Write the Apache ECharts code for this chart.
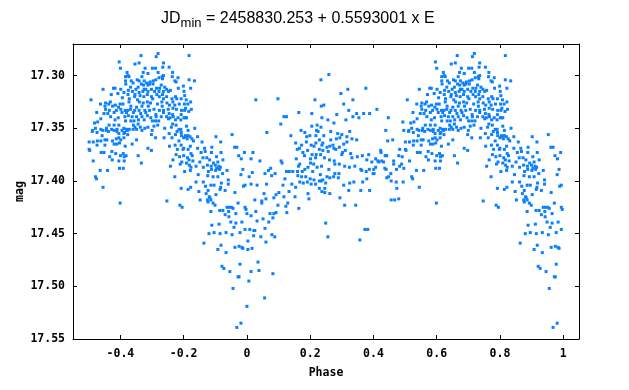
<!DOCTYPE html>
<html><head><meta charset="utf-8">
<script src="https://cdn.jsdelivr.net/npm/echarts@6/dist/echarts.min.js"></script>
<style>html,body{margin:0;padding:0;background:#fff}#c{width:629px;height:390px}</style>
</head><body><div id="c"></div>
<script>
const xTickValues = [-0.4, -0.2, 0, 0.2, 0.4, 0.6, 0.8, 1];
const yTickValues = [17.30, 17.35, 17.40, 17.45, 17.50, 17.55];

// observations, phase in [-0.5, 0.02]  (phase, mag)
const obsFirstHalf = [
[-0.281,17.279],[-0.287,17.282],[-0.335,17.281],[-0.183,17.281],
[-0.404,17.287],[-0.341,17.288],[-0.354,17.289],[-0.264,17.288],
[-0.400,17.293],[-0.322,17.293],[-0.299,17.293],[-0.289,17.293],[-0.266,17.292],[-0.246,17.292],
[-0.379,17.297],[-0.328,17.297],[-0.281,17.297],[-0.313,17.298],[-0.235,17.297],[-0.376,17.300],
[-0.384,17.301],[-0.373,17.301],[-0.332,17.301],[-0.268,17.301],[-0.264,17.300],[-0.278,17.302],[-0.218,17.302],[-0.236,17.301],
[-0.384,17.305],[-0.366,17.305],[-0.347,17.304],[-0.341,17.305],[-0.325,17.305],[-0.317,17.307],[-0.306,17.306],[-0.296,17.305],
[-0.288,17.304],[-0.267,17.303],[-0.228,17.305],[-0.183,17.304],[-0.166,17.305],[-0.383,17.308],[-0.360,17.307],[-0.334,17.308],
[-0.327,17.309],[-0.308,17.308],[-0.297,17.308],[-0.313,17.309],[-0.271,17.309],[-0.224,17.306],
[-0.422,17.312],[-0.417,17.312],[-0.399,17.313],[-0.368,17.311],[-0.344,17.311],[-0.325,17.313],[-0.320,17.313],[-0.302,17.313],
[-0.286,17.312],[-0.276,17.312],[-0.260,17.311],[-0.254,17.313],[-0.242,17.314],[-0.217,17.312],[-0.201,17.310],[-0.178,17.312],
[-0.375,17.314],[-0.362,17.315],[-0.351,17.313],[-0.341,17.316],[-0.329,17.315],[-0.313,17.315],[-0.292,17.315],[-0.278,17.315],
[-0.264,17.315],[-0.248,17.315],[-0.199,17.315],[-0.455,17.313],
[-0.429,17.318],[-0.408,17.317],[-0.389,17.316],[-0.376,17.318],[-0.354,17.318],[-0.338,17.319],[-0.315,17.318],[-0.302,17.320],
[-0.285,17.318],[-0.267,17.318],[-0.254,17.320],[-0.226,17.320],[-0.197,17.319],[-0.394,17.321],[-0.372,17.322],[-0.355,17.320],
[-0.346,17.323],[-0.326,17.320],[-0.298,17.322],[-0.277,17.320],[-0.264,17.322],[-0.237,17.322],[-0.222,17.322],[-0.208,17.322],
[-0.493,17.323],[-0.192,17.323],
[-0.463,17.327],[-0.447,17.326],[-0.437,17.327],[-0.432,17.325],[-0.401,17.327],[-0.392,17.327],[-0.373,17.325],[-0.340,17.325],
[-0.328,17.326],[-0.315,17.325],[-0.305,17.326],[-0.283,17.327],[-0.269,17.325],[-0.253,17.326],[-0.234,17.325],[-0.214,17.327],
[-0.198,17.327],[-0.187,17.327],[-0.178,17.325],[-0.449,17.329],[-0.425,17.329],[-0.416,17.328],[-0.406,17.330],[-0.367,17.329],
[-0.349,17.330],[-0.332,17.329],[-0.312,17.329],[-0.268,17.329],[-0.245,17.328],[-0.228,17.328],[-0.194,17.331],
[-0.447,17.332],[-0.435,17.333],[-0.413,17.333],[-0.399,17.332],[-0.385,17.333],[-0.377,17.333],[-0.368,17.332],[-0.355,17.333],
[-0.341,17.333],[-0.323,17.333],[-0.308,17.333],[-0.294,17.332],[-0.277,17.333],[-0.264,17.333],[-0.249,17.332],[-0.234,17.331],
[-0.223,17.332],[-0.207,17.333],[-0.197,17.333],[-0.184,17.334],[-0.176,17.332],[-0.475,17.335],[-0.452,17.336],[-0.440,17.336],
[-0.420,17.335],[-0.395,17.335],[-0.381,17.335],[-0.359,17.335],[-0.336,17.336],[-0.320,17.335],[-0.288,17.337],[-0.264,17.335],
[-0.246,17.336],[-0.235,17.337],[-0.208,17.337],
[-0.462,17.341],[-0.431,17.339],[-0.407,17.340],[-0.386,17.339],[-0.375,17.338],[-0.363,17.339],[-0.349,17.339],[-0.332,17.339],
[-0.315,17.338],[-0.304,17.340],[-0.287,17.339],[-0.271,17.339],[-0.254,17.339],[-0.243,17.340],[-0.233,17.339],[-0.218,17.340],
[-0.199,17.340],[-0.191,17.340],[-0.417,17.342],[-0.384,17.343],[-0.367,17.343],[-0.357,17.343],[-0.343,17.342],[-0.325,17.342],
[-0.299,17.343],[-0.289,17.343],[-0.279,17.343],[-0.248,17.341],[-0.226,17.342],[-0.209,17.342],[-0.195,17.340],
[-0.482,17.345],[-0.472,17.344],[-0.436,17.347],[-0.420,17.347],[-0.405,17.347],[-0.359,17.347],[-0.344,17.346],[-0.313,17.349],
[-0.294,17.348],[-0.282,17.347],[-0.235,17.346],[-0.224,17.347],[-0.191,17.348],[-0.444,17.350],[-0.428,17.351],[-0.411,17.351],
[-0.389,17.350],[-0.381,17.351],[-0.372,17.351],[-0.354,17.349],[-0.349,17.351],[-0.337,17.349],[-0.323,17.350],[-0.260,17.350],
[-0.239,17.349],[-0.215,17.351],[-0.209,17.351],[-0.165,17.350],[-0.488,17.352],[-0.479,17.350],[-0.462,17.351],
[-0.489,17.353],[-0.474,17.354],[-0.456,17.352],[-0.445,17.352],[-0.438,17.353],[-0.420,17.352],[-0.411,17.353],[-0.395,17.352],
[-0.387,17.354],[-0.378,17.352],[-0.360,17.351],[-0.332,17.352],[-0.300,17.352],[-0.221,17.353],[-0.208,17.354],[-0.186,17.352],
[-0.458,17.357],[-0.405,17.355],[-0.389,17.355],[-0.377,17.356],[-0.302,17.356],[-0.246,17.355],[-0.226,17.356],[-0.207,17.357],
[-0.195,17.357],[-0.193,17.358],[-0.186,17.357],[-0.156,17.358],
[-0.499,17.363],[-0.473,17.362],[-0.462,17.362],[-0.449,17.361],[-0.443,17.361],[-0.425,17.362],[-0.413,17.360],[-0.405,17.359],
[-0.399,17.361],[-0.389,17.359],[-0.349,17.361],[-0.289,17.359],[-0.262,17.359],[-0.237,17.359],[-0.215,17.362],[-0.200,17.359],
[-0.189,17.360],[-0.180,17.358],[-0.174,17.360],[-0.169,17.362],[-0.142,17.363],[-0.098,17.358],[-0.083,17.363],[-0.047,17.356],
[-0.486,17.363],
[-0.474,17.366],[-0.449,17.366],[-0.420,17.365],[-0.412,17.365],[-0.403,17.364],[-0.385,17.367],[-0.363,17.365],[-0.313,17.369],
[-0.245,17.367],[-0.227,17.366],[-0.208,17.366],[-0.200,17.369],[-0.179,17.367],[-0.156,17.369],[-0.134,17.369],[-0.111,17.368],
[-0.039,17.368],[-0.032,17.368],[-0.497,17.371],[-0.461,17.373],[-0.452,17.373],[-0.427,17.372],[-0.415,17.374],[-0.400,17.376],
[-0.391,17.374],[-0.382,17.376],[-0.344,17.376],[-0.302,17.371],[-0.220,17.370],[-0.202,17.370],[-0.186,17.370],[-0.177,17.374],
[-0.145,17.373],[-0.132,17.372],[-0.112,17.373],[-0.082,17.373],[-0.008,17.373],[0.019,17.373],[-0.499,17.370],
[-0.434,17.377],[-0.388,17.377],[-0.224,17.375],[-0.213,17.377],[-0.200,17.376],[-0.188,17.378],[-0.173,17.376],[-0.139,17.378],
[-0.127,17.378],[-0.118,17.380],[-0.096,17.377],[-0.076,17.380],[-0.026,17.376],[-0.018,17.379],[0.013,17.379],[-0.486,17.381],
[-0.426,17.380],[-0.405,17.381],[-0.388,17.381],[-0.334,17.383],[-0.234,17.380],[-0.206,17.382],[-0.183,17.380],[-0.171,17.381],
[-0.149,17.382],[-0.106,17.383],[-0.092,17.382],
[-0.211,17.384],[-0.191,17.383],[-0.182,17.385],[-0.177,17.387],[-0.161,17.386],[-0.138,17.387],[-0.125,17.385],[-0.113,17.386],
[-0.100,17.385],[-0.096,17.388],[-0.089,17.386],[-0.084,17.387],[-0.242,17.386],[-0.403,17.388],[-0.391,17.388],[-0.464,17.390],
[-0.441,17.390],[-0.197,17.391],[-0.179,17.390],[-0.122,17.391],[-0.112,17.389],[-0.099,17.390],[-0.087,17.389],[-0.063,17.390],
[-0.013,17.389],[0.017,17.392],
[-0.479,17.396],[-0.476,17.398],[-0.228,17.396],[-0.154,17.394],[-0.124,17.395],[-0.107,17.396],[-0.092,17.396],[-0.077,17.393],
[-0.059,17.399],[-0.019,17.394],[0.007,17.396],[-0.138,17.401],[-0.161,17.401],[-0.114,17.404],[-0.081,17.402],[-0.059,17.403],
[-0.455,17.406],[-0.208,17.407],[-0.178,17.406],[-0.131,17.405],[-0.104,17.404],[-0.083,17.406],[-0.006,17.404],[-0.011,17.405],
[0.013,17.403],[-0.186,17.408],[-0.123,17.409],[-0.085,17.408],
[-0.253,17.419],[-0.401,17.421],[-0.212,17.423],[-0.205,17.425],[-0.152,17.410],[-0.148,17.418],[-0.125,17.418],[-0.123,17.420],
[-0.119,17.415],[-0.117,17.416],[-0.114,17.418],[-0.107,17.421],[-0.101,17.423],[-0.098,17.413],[-0.129,17.412],[-0.069,17.409],
[-0.038,17.411],[-0.028,17.421],[-0.114,17.429],[-0.086,17.428],[-0.076,17.428],[-0.063,17.425],[-0.057,17.425],[-0.049,17.425],
[-0.044,17.426],[-0.058,17.429],[-0.069,17.432],[-0.057,17.434],[-0.035,17.431],[-0.006,17.425],[-0.003,17.427],[0.000,17.431],
[0.013,17.433],[-0.051,17.439],[-0.035,17.440],[-0.016,17.439],[-0.111,17.442],[-0.088,17.441],[-0.041,17.444],[-0.006,17.446],
[0.009,17.446],[-0.120,17.450],[-0.104,17.449],[-0.085,17.450],[-0.066,17.449],[-0.047,17.451],[-0.022,17.449],[0.022,17.447],
[0.021,17.452],[-0.136,17.459],[-0.082,17.461],[-0.092,17.465],[-0.066,17.468],[-0.038,17.463],[-0.025,17.462],[-0.016,17.463],
[-0.013,17.464],[0.003,17.465],[0.016,17.464],[0.003,17.457],[-0.079,17.481],[-0.073,17.483],[-0.054,17.486],[-0.022,17.479],
[-0.028,17.491],[-0.025,17.491],[0.013,17.486],[0.006,17.495],[-0.044,17.502],[0.000,17.519],[-0.032,17.539],[-0.019,17.535]
];

// observations, phase in (0.02, 0.5)  (phase, mag)
const obsSecondHalf = [
[0.259,17.299],[0.234,17.304],[0.297,17.317],[0.319,17.313],[0.376,17.312],[0.335,17.323],[0.306,17.327],[0.028,17.323],
[0.098,17.322],[0.215,17.323],[0.235,17.329],[0.243,17.328],[0.322,17.333],[0.369,17.336],[0.388,17.336],[0.411,17.332],
[0.347,17.336],[0.354,17.340],[0.164,17.335],[0.205,17.336],[0.284,17.337],[0.335,17.339],[0.117,17.339],[0.125,17.339],
[0.237,17.340],[0.256,17.342],[0.275,17.345],[0.313,17.342],[0.107,17.346],[0.205,17.348],[0.222,17.347],[0.234,17.349],
[0.220,17.352],[0.225,17.353],[0.171,17.352],[0.063,17.354],[0.183,17.354],[0.199,17.357],[0.218,17.357],[0.139,17.357],
[0.189,17.358],[0.265,17.353],[0.287,17.355],[0.300,17.356],[0.325,17.353],[0.316,17.358],[0.332,17.360],[0.347,17.361],
[0.294,17.359],[0.283,17.360],[0.265,17.361],[0.243,17.357],[0.229,17.361],[0.154,17.364],[0.173,17.366],[0.188,17.363],
[0.203,17.366],[0.212,17.367],[0.218,17.364],[0.237,17.366],[0.253,17.368],[0.262,17.367],[0.272,17.366],[0.240,17.364],
[0.275,17.369],[0.292,17.368],[0.306,17.365],[0.316,17.363],[0.166,17.369],[0.159,17.370],[0.177,17.373],[0.192,17.371],
[0.206,17.375],[0.229,17.370],[0.240,17.371],[0.257,17.372],[0.281,17.370],[0.302,17.373],[0.311,17.371],[0.328,17.374],
[0.349,17.377],[0.156,17.379],[0.108,17.381],[0.111,17.383],[0.182,17.376],[0.201,17.379],[0.217,17.378],[0.233,17.375],
[0.219,17.375],[0.245,17.378],[0.261,17.380],[0.276,17.381],[0.300,17.375],[0.332,17.378],[0.309,17.386],[0.324,17.387],
[0.341,17.386],[0.365,17.376],[0.379,17.380],[0.385,17.375],[0.407,17.379],[0.167,17.384],[0.163,17.386],[0.193,17.387],
[0.201,17.383],[0.211,17.384],[0.222,17.387],[0.236,17.386],[0.259,17.389],[0.278,17.384],[0.292,17.384],[0.183,17.389],
[0.120,17.398],[0.125,17.391],[0.134,17.391],[0.145,17.391],[0.160,17.391],[0.175,17.391],[0.161,17.395],[0.173,17.396],
[0.186,17.396],[0.200,17.398],[0.212,17.399],[0.229,17.400],[0.240,17.399],[0.253,17.396],[0.262,17.397],[0.274,17.396],
[0.291,17.393],[0.289,17.397],[0.278,17.393],[0.232,17.394],[0.208,17.391],[0.075,17.388],[0.068,17.390],[0.089,17.393],
[0.078,17.395],[0.057,17.393],[0.062,17.403],[0.032,17.404],[0.114,17.404],[0.142,17.403],[0.154,17.406],[0.167,17.401],
[0.178,17.402],[0.191,17.401],[0.203,17.403],[0.217,17.403],[0.229,17.407],[0.246,17.407],[0.235,17.400],[0.249,17.402],
[0.306,17.404],[0.325,17.402],[0.338,17.401],[0.366,17.401],[0.379,17.398],[0.399,17.393],[0.401,17.389],[0.414,17.381],
[0.423,17.371],[0.437,17.376],[0.442,17.376],[0.445,17.362],[0.461,17.361],[0.439,17.352],[0.447,17.340],[0.493,17.344],
[0.496,17.352],[0.483,17.370],[0.480,17.376],[0.491,17.377],[0.464,17.381],[0.464,17.384],[0.489,17.384],[0.496,17.388],
[0.483,17.386],[0.473,17.389],[0.455,17.393],[0.442,17.397],[0.448,17.396],[0.456,17.400],[0.472,17.401],[0.494,17.401],
[0.474,17.407],[0.436,17.388],[0.440,17.389],[0.426,17.381],[0.432,17.382],[0.417,17.382],[0.407,17.387],[0.402,17.393],
[0.395,17.382],[0.377,17.391],[0.387,17.389],[0.363,17.390],[0.360,17.389],[0.424,17.373],[0.041,17.381],
[0.054,17.412],[0.047,17.419],[0.047,17.421],[0.060,17.417],[0.025,17.418],[0.085,17.416],[0.092,17.413],[0.098,17.423],
[0.101,17.411],[0.117,17.415],[0.123,17.424],[0.129,17.421],[0.133,17.410],[0.152,17.415],[0.164,17.426],[0.193,17.412],
[0.196,17.417],[0.294,17.416],[0.309,17.423],[0.344,17.423],[0.360,17.409],[0.388,17.409],[0.456,17.418],[0.467,17.418],
[0.480,17.417],[0.028,17.429],[0.073,17.431],[0.085,17.431],[0.092,17.430],[0.126,17.430],[0.032,17.438],[0.051,17.436],
[0.069,17.439],[0.082,17.435],[0.057,17.445],[0.025,17.447],[0.044,17.453],[0.079,17.451],[0.088,17.453],[0.060,17.458],
[0.249,17.440],[0.256,17.453],[0.373,17.446],[0.382,17.446],[0.357,17.456],[0.035,17.477],[0.038,17.485],[0.082,17.488],
[0.056,17.511],[0.237,17.410],[0.246,17.411],[0.262,17.412],[0.322,17.409]
];

// The light curve is drawn over phase -0.5 .. 1.0: negative phases are repeated one cycle later.
const points = [];
for (const [p, m] of obsFirstHalf.concat(obsSecondHalf)) {
  points.push([p, m]);
  if (p < 0) points.push([p + 1, m]);
}

const AX_FONT = 'DejaVu Sans Mono';
const axisText = { fontFamily: AX_FONT, fontWeight: 'bold', fontSize: 11.5, color: '#000' };
const frameLine = { show: true, onZero: false, lineStyle: { color: '#000', width: 1 } };

const chart = echarts.init(document.getElementById('c'), null, { renderer: 'canvas' });
chart.setOption({
  animation: false,
  backgroundColor: '#fff',
  title: {
    text: '{a|JD}{b|min}{a| = 2458830.253 + 0.5593001 x E}',
    left: 161, top: 9, padding: 0,
    textStyle: {
      fontWeight: 'normal',
      rich: {
        a: { fontFamily: 'Liberation Sans', fontWeight: 'normal', fontSize: 16, color: '#000', lineHeight: 20, verticalAlign: 'middle' },
        b: { fontFamily: 'Liberation Sans', fontWeight: 'normal', fontSize: 13, color: '#000', lineHeight: 20, verticalAlign: 'middle', padding: [8, 0, 0, 0] }
      }
    }
  },
  grid: { left: 73, right: 50, top: 44, bottom: 51, outerBoundsMode: 'none' },
  xAxis: [
    {
      type: 'value', position: 'bottom', min: -0.55, max: 1.05,
      axisLine: frameLine,
      axisTick: { show: true, inside: true, length: 4, customValues: xTickValues, lineStyle: { color: '#000' } },
      axisLabel: Object.assign({ margin: 9, customValues: xTickValues,
        formatter: v => String(Math.round(v * 10) / 10) }, axisText),
      splitLine: { show: false },
      name: 'Phase', nameLocation: 'middle', nameGap: 28, nameMoveOverlap: false, nameTextStyle: axisText
    },
    {
      type: 'value', position: 'top', min: -0.55, max: 1.05,
      axisLine: frameLine,
      axisTick: { show: true, inside: true, length: 4, customValues: xTickValues, lineStyle: { color: '#000' } },
      axisLabel: { show: false }, splitLine: { show: false }
    }
  ],
  yAxis: [
    {
      type: 'value', position: 'left', inverse: true, min: 17.27, max: 17.55,
      axisLine: frameLine,
      axisTick: { show: true, inside: true, length: 4, customValues: yTickValues, lineStyle: { color: '#000' } },
      axisLabel: Object.assign({ margin: 8, customValues: yTickValues,
        formatter: v => Number(v).toFixed(2) }, axisText),
      splitLine: { show: false },
      name: 'mag', nameLocation: 'middle', nameGap: 47, nameMoveOverlap: false, nameTextStyle: axisText
    },
    {
      type: 'value', position: 'right', inverse: true, min: 17.27, max: 17.55,
      axisLine: frameLine,
      axisTick: { show: true, inside: true, length: 4, customValues: yTickValues, lineStyle: { color: '#000' } },
      axisLabel: { show: false }, splitLine: { show: false }
    }
  ],
  series: [{
    type: 'scatter', xAxisIndex: 0, yAxisIndex: 0,
    symbol: 'rect', symbolSize: 3,
    itemStyle: { color: '#0a80ff', opacity: 1 },
    data: points
  }]
});
</script>
</body></html>
